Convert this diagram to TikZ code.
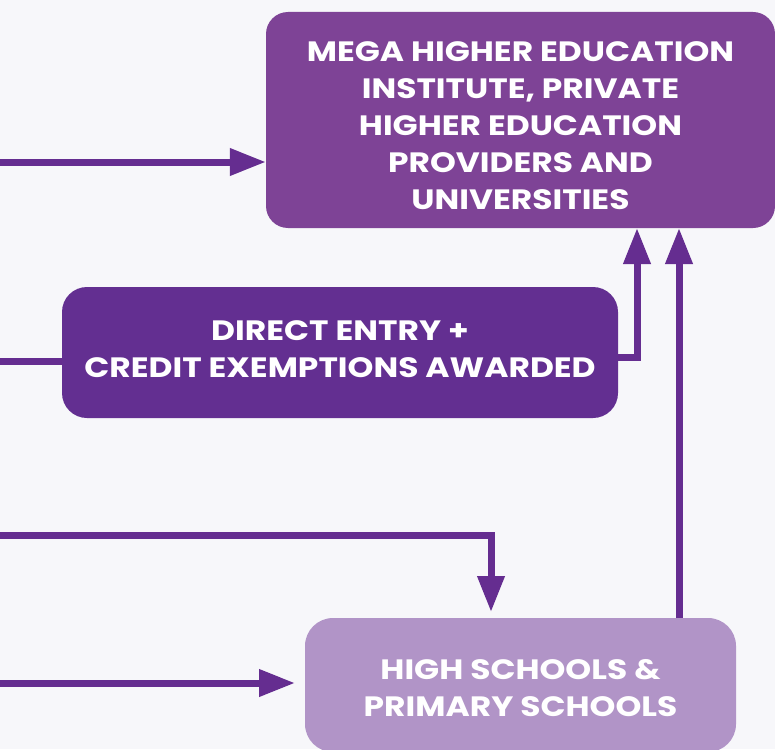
\documentclass[tikz,border=0pt]{standalone}
\usepackage{fontspec}
\setmainfont{Poppins}[UprightFont=* Bold, BoldFont=* Bold, FakeStretch=1.175]
\usetikzlibrary{arrows.meta}
\definecolor{bg}{HTML}{F7F7FA}
\definecolor{topc}{HTML}{7E4396}
\definecolor{midc}{HTML}{632F91}
\definecolor{lowc}{HTML}{B194C7}
\definecolor{arrc}{HTML}{652D90}
\tikzset{
  box/.style={rectangle, text=white, align=center, inner sep=0pt,
    font=\fontsize{28}{37}\selectfont},
  conn/.style={draw=arrc, line width=7pt},
  arr/.style={conn, -{Triangle[length=36pt, width=26pt]}}
}
\begin{document}
\begin{tikzpicture}[x=1pt, y=-1pt]
\fill[bg] (0,0) rectangle (775,749);
\useasboundingbox (0,0) rectangle (775,749);
\node[box, fill=topc, rounded corners=22pt, minimum width=509pt, minimum height=216pt] (top) at (520.5,120) {};
\node[box, text=white] at (520.5,126) {MEGA HIGHER EDUCATION\\INSTITUTE, PRIVATE\\HIGHER EDUCATION\\PROVIDERS AND\\UNIVERSITIES};
\node[box, fill=midc, rounded corners=25pt, minimum width=556pt, minimum height=131pt] (mid) at (340,352.5) {};
\node[box] at (340,349) {DIRECT ENTRY +\\CREDIT EXEMPTIONS AWARDED};
\node[box, fill=lowc, rounded corners=28pt, minimum width=431pt, minimum height=134pt] (low) at (520.5,685) {};
\node[box] at (520.5,688) {HIGH SCHOOLS \&\\PRIMARY SCHOOLS};
\coordinate (s1) at (0,162);
\coordinate (s2) at (0,361.5);
\coordinate (s4) at (0,535);
\coordinate (s5) at (0,683);
\coordinate (t4) at (491,612);
\coordinate (t5) at (295,683);
\draw[arr] (s1) -- (s1 -| top.west);
\draw[conn] (s2) -- (s2 -| mid.west);
\draw[arr] (mid.east |- 0,357) -- (637,357) -- (637,228);
\draw[arr] (679,618) -- (679,228);
\draw[arr] (s4) -- (t4 |- s4) -- (t4);
\draw[arr] (s5) -- (t5);
\end{tikzpicture}
\end{document}
